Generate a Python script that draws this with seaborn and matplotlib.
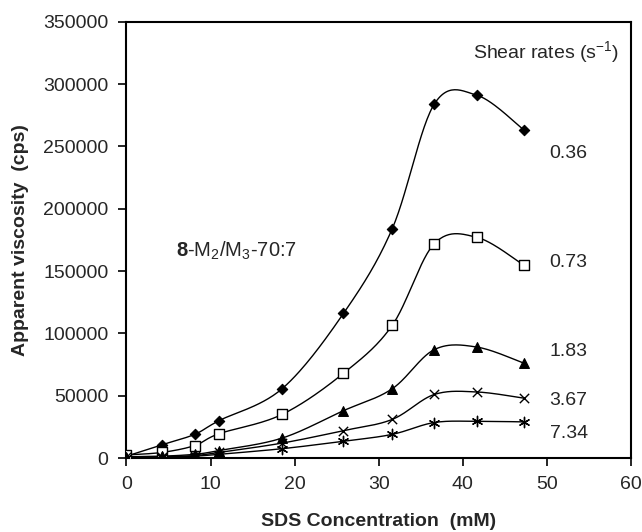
import numpy as np
import pandas as pd
import seaborn as sns
import matplotlib.pyplot as plt

# ---- data ----
sds_mM = [0, 4.2, 8.1, 11.0, 18.5, 25.8, 31.6, 36.6, 41.7, 47.3]
visc_036 = [1500, 10600, 19000, 30000, 55600, 116000, 184000, 284000, 291000, 263000]
visc_073 = [2500, 4500, 10000, 19500, 35000, 68000, 106500, 172000, 177000, 154500]
visc_183 = [1000, 1500, 3000, 6000, 16000, 38000, 55600, 87000, 89000, 76000]
visc_367 = [500, 1000, 2000, 4500, 12000, 22000, 31000, 51000, 53000, 48000]
visc_734 = [300, 500, 1500, 3000, 7500, 13500, 19000, 28500, 29500, 29000]
rate_labels = ["0.36", "0.73", "1.83", "3.67", "7.34"]
label_y = [244000, 156500, 85500, 46000, 20000]
x_ticks = [0, 10, 20, 30, 40, 50, 60]
y_ticks = [0, 50000, 100000, 150000, 200000, 250000, 300000, 350000]

sns.set_theme(style="white")
plt.rcParams['font.family'] = ['Liberation Sans', 'DejaVu Sans']
plt.rcParams['mathtext.fontset'] = 'custom'
plt.rcParams['mathtext.rm'] = 'Liberation Sans'
plt.rcParams['mathtext.it'] = 'Liberation Sans:italic'
plt.rcParams['mathtext.bf'] = 'Liberation Sans:bold'


def smooth(x, y, n=30):
    """Excel-style smoothed line (Catmull-Rom / cubic Bezier)."""
    x = np.asarray(x, float); y = np.asarray(y, float)
    P = np.column_stack([x, y])
    Pe = np.vstack([P[0], P, P[-1]])
    out = []
    t = np.linspace(0, 1, n)[:, None]
    for i in range(len(P) - 1):
        p0, p1, p2, p3 = Pe[i], Pe[i + 1], Pe[i + 2], Pe[i + 3]
        c1 = p1 + (p2 - p0) / 6.0
        c2 = p2 - (p3 - p1) / 6.0
        seg = ((1 - t) ** 3) * p1 + 3 * ((1 - t) ** 2) * t * c1 + 3 * (1 - t) * t ** 2 * c2 + t ** 3 * p2
        out.append(seg if i == 0 else seg[1:])
    s = np.vstack(out)
    return s[:, 0], s[:, 1]


fig = plt.figure(figsize=(6.42, 5.32), dpi=100)
ax = fig.add_axes([0.197, 0.139, 0.786, 0.820])

series = [visc_036, visc_073, visc_183, visc_367, visc_734]
styles = [
    dict(marker='D', s=28, color='black', edgecolor='black', linewidth=0.8),
    dict(marker='s', s=45, facecolor='white', edgecolor='black', linewidth=1.0),
    dict(marker='^', s=50, color='black', edgecolor='black', linewidth=0.8),
    dict(marker='x', s=45, color='black', linewidth=1.0),
    dict(marker=(6, 2, 0), s=55, color='black', linewidth=1.0),
]

for vals, st in zip(series, styles):
    cx, cy = smooth(sds_mM, vals)
    df_c = pd.DataFrame({'x': cx, 'y': cy})
    sns.lineplot(data=df_c, x='x', y='y', sort=False, estimator=None,
                 color='black', linewidth=1.0, ax=ax)
    df_p = pd.DataFrame({'x': sds_mM, 'y': vals})
    sns.scatterplot(data=df_p, x='x', y='y', ax=ax, zorder=5, **st)

for lab, ly in zip(rate_labels, label_y):
    ax.text(50.3, ly, lab, fontsize=14, va='center', ha='left')
ax.text(41.2, 326000, "Shear rates (s$^{\\mathregular{-1}}$)", fontsize=14, va='center', ha='left')
ax.text(5.9, 166000, r"$\mathbf{8}$-M$_2$/M$_3$-70:7", fontsize=14.5, va='center', ha='left')

ax.set_xlim(0, 60)
ax.set_ylim(0, 350000)
ax.set_xticks(x_ticks)
ax.set_yticks(y_ticks)
ax.set_xticklabels([str(v) for v in x_ticks], fontsize=14)
ax.set_yticklabels([str(v) for v in y_ticks], fontsize=14)
ax.tick_params(axis='both', direction='out', length=6, width=1.2, color='black',
               bottom=True, left=True, pad=7)
for sp in ax.spines.values():
    sp.set_color('black'); sp.set_linewidth(1.5); sp.set_visible(True)

ax.set_xlabel("SDS Concentration  (mM)", fontsize=14, fontweight='bold', labelpad=14)
ax.set_ylabel("Apparent viscosity  (cps)", fontsize=14, fontweight='bold', labelpad=10)

fig.savefig("out.png", dpi=100)
